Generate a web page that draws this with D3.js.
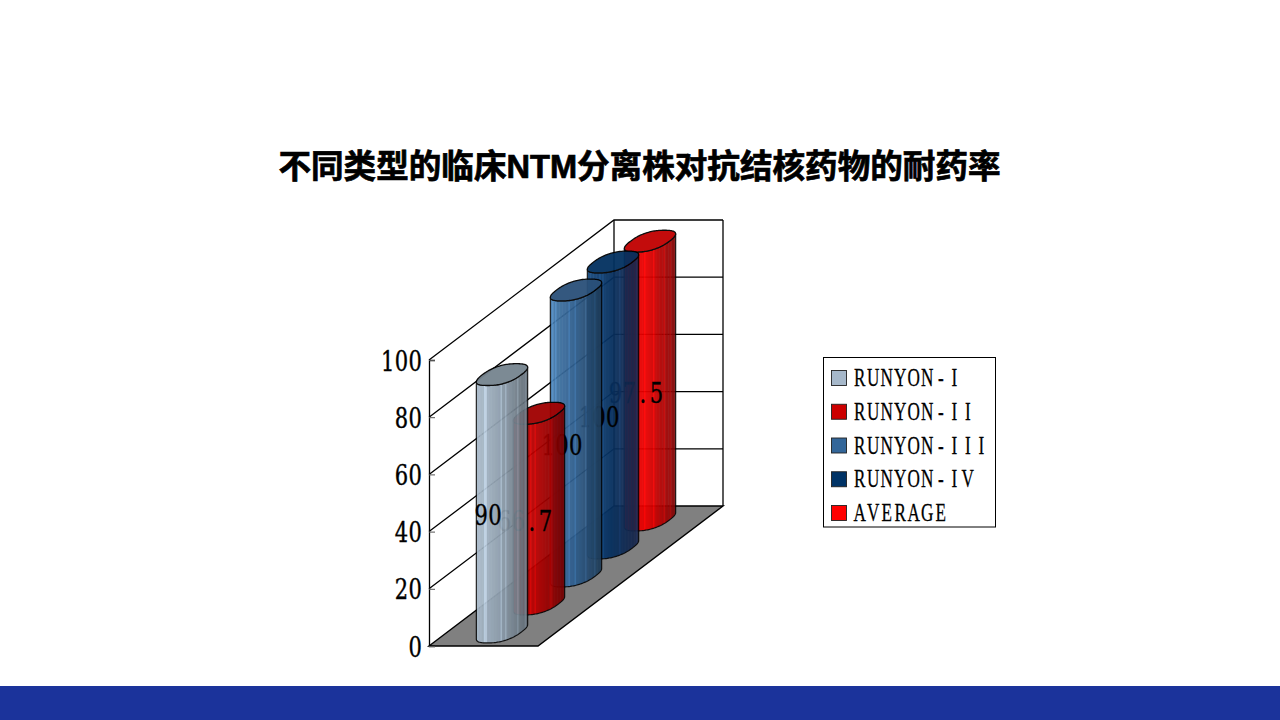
<!DOCTYPE html>
<html><head><meta charset="utf-8">
<script src="https://cdn.jsdelivr.net/npm/d3@7/dist/d3.min.js"></script>
<style>html,body{margin:0;padding:0;background:#fff}svg{display:block}</style>
</head><body><svg id="c" width="1280" height="720"></svg>
<script>
const titleText = "不同类型的临床NTM分离株对抗结核药物的耐药率";
const categories = ["RUNYON-I","RUNYON-II","RUNYON-III","RUNYON-IV","AVERAGE"];
const values = [90, 66.7, 100, 100, 97.5];
const valueLabels = ["90","66.7","100","100","97.5"];
const yTicks = [0,20,40,60,80,100];
const swatchColors = ["#a6b8ca","#cc0000","#336699","#003366","#ff0000"];
const topColors = ["#76848f","#a00000","#2a5079","#02305f","#c00000"];
const bodyLight = ["#aabbcb","#cc0404","#467aaa","#174a80","#f40000"];
const bodyMid = ["#8f9fae","#b40000","#2f5e8e","#06305f","#e40000"];
const bodyDark = ["#5f6a73","#700000","#1e3a56","#1a2548","#7c0606"];

const svg = d3.select("#c");
const defs = svg.append("defs");
const x0 = 429, floorW = 109, depthX = 185, depthY = 140;
const y = d3.scaleLinear().domain([0,100]).range([646,360]);
const depth = d3.scaleBand().domain(categories).range([0,1]);
const ox = t => x0 + t*depthX, oy = t => -t*depthY;

const ctx = document.createElement("canvas").getContext("2d");
function cellXs(str, font, squeeze, cell) {
  ctx.font = font;
  return Array.from(str).map((ch,k)=>((k+.5)*cell - ctx.measureText(ch).width*squeeze/2)/squeeze).join(" ");
}
const numFontSize = 27, numFamily = "'DejaVu Serif'", numSqueeze = 0.78, numCell = 13.7;
const numFont = `${numFontSize}px ${numFamily}`;
function numberText(sel, str, left, baseline) {
  sel.text(str).attr("transform",`translate(${left},${baseline}) scale(${numSqueeze},1)`)
    .attr("x",cellXs(str,numFont,numSqueeze,numCell)).attr("y",0).attr("dy",null).attr("text-anchor","start")
    .attr("font-family",numFamily).attr("font-size",numFontSize).attr("fill","#000")
    .attr("stroke","#000").attr("stroke-width",0.4);
}

svg.append("rect").attr("x",0).attr("y",686).attr("width",1280).attr("height",34).attr("fill","#1b339b");
svg.append("text").text(titleText).attr("x",639.5).attr("y",178).attr("text-anchor","middle")
  .attr("font-family","'Liberation Sans','Noto Sans CJK SC'").attr("font-weight",700).attr("font-size",32.6)
  .attr("fill","#000").attr("stroke","#000").attr("stroke-width",0.7);

const line = d3.line();
const frame = svg.append("g").attr("fill","none").attr("stroke","#000").attr("stroke-width",1.3);
frame.append("path").attr("fill","#808080").attr("stroke-width",1.4)
  .attr("d",line([[x0,y(0)],[ox(1),y(0)+oy(1)],[ox(1)+floorW,y(0)+oy(1)],[x0+floorW,y(0)]])+"Z");
yTicks.slice(1).forEach(v=>{
  frame.append("path").attr("d",line([[x0,y(v)],[ox(1),y(v)+oy(1)],[ox(1)+floorW,y(v)+oy(1)]]));
});
frame.append("path").attr("d",line([[ox(1),y(0)+oy(1)],[ox(1),y(100)+oy(1)]]));
frame.append("path").attr("d",line([[ox(1)+floorW,y(0)+oy(1)],[ox(1)+floorW,y(100)+oy(1)]]));

const axis = svg.append("g").attr("transform",`translate(${x0},0)`)
  .call(d3.axisLeft(y).tickValues(yTicks).tickSize(-6).tickFormat(d3.format("d")));
axis.selectAll(".tick text").each(function(d){
  const s = String(d);
  numberText(d3.select(this), s, -7 - s.length*numCell, 10);
});
axis.selectAll("line").attr("stroke","#555");
axis.select(".domain").attr("stroke","#000").attr("stroke-width",1.3);

// rounded cap outline, sheared along the depth direction
const rx = 19.4, f = 0.39, nStripes = 34, round = 0.82;
const cellDX = depthX/5, cellDY = depthY/5;
const sp = v => Math.sign(v)*Math.pow(Math.abs(v),round);
const pt = (cx,cy,a) => [cx + rx*sp(Math.cos(a)) + f*cellDX*sp(Math.sin(a)), cy - f*cellDY*sp(Math.sin(a))];
const samples = d3.range(0,400).map(k=>k/400*2*Math.PI);
const aRight = samples[d3.maxIndex(samples,a=>pt(0,0,a)[0])];
const halfW = pt(0,0,aRight)[0];

d3.range(categories.length-1,-1,-1).forEach(i=>{
  const t = depth(categories[i]) + depth.bandwidth()/2;
  const cx = ox(t) + floorW/2;
  const baseY = y(0)+oy(t);
  const topY = y(values[i])+oy(t);
  const g = svg.append("g").attr("opacity",0.95);
  const arc = d3.range(0,61).map(k=>aRight - Math.PI*k/60);
  const lowerBase = arc.map(a=>pt(cx,baseY,a));
  const lowerTop = arc.map(a=>pt(cx,topY,a)).reverse();
  const bodyPath = line(lowerBase.concat(lowerTop))+"Z";
  const id = "clip"+i;
  defs.append("clipPath").attr("id",id).append("path").attr("d",bodyPath);
  const shade = d3.scaleLinear().domain([0,0.45,1]).range([bodyLight[i],bodyMid[i],bodyDark[i]]);
  const bars = g.append("g").attr("clip-path",`url(#${id})`);
  const sw = 2*halfW/nStripes;
  d3.range(nStripes).forEach(k=>{
    const light = (k*7+i*3)%11===2 || (k*5+i)%13===4;
    bars.append("rect").attr("x",cx-halfW+k*sw).attr("y",topY-15).attr("width",sw+0.5).attr("height",baseY-topY+30)
      .attr("fill", light ? d3.color(shade((k+.5)/nStripes)).brighter(0.45) : shade((k+.5)/nStripes));
  });
  g.append("path").attr("d",bodyPath).attr("fill","none").attr("stroke","#000").attr("stroke-width",1.2).attr("stroke-opacity",.9);
  const ell = d3.range(0,121).map(k=>pt(cx,topY,2*Math.PI*k/120));
  g.append("path").attr("d",line(ell)+"Z").attr("fill",topColors[i]).attr("stroke","#000").attr("stroke-width",1.3);
  const str = valueLabels[i];
  numberText(svg.append("text"), str, cx-14-str.length*numCell/2, (baseY+topY)/2+22);
});

const legend = svg.append("g");
legend.append("rect").attr("x",823.5).attr("y",357.5).attr("width",172).attr("height",169.5).attr("fill","#fff").attr("stroke","#000");
const ly = d3.scalePoint().domain(categories).range([378,513]);
const legendFontSize = 26, legendSqueeze = 0.66, legendCell = 13.5;
const legendFont = `${legendFontSize}px 'Liberation Serif'`;
categories.forEach((c,i)=>{
  legend.append("rect").attr("x",831.5).attr("y",ly(c)-7.5).attr("width",15).attr("height",15)
    .attr("fill",swatchColors[i]).attr("stroke","#222").attr("stroke-width",.9);
  legend.append("text").text(c).attr("transform",`translate(853,${ly(c)+8}) scale(${legendSqueeze},1)`)
    .attr("x",cellXs(c,legendFont,legendSqueeze,legendCell)).attr("font-family","'Liberation Serif'")
    .attr("font-size",legendFontSize).attr("fill","#000").attr("stroke","#000").attr("stroke-width",0.3);
});
</script></body></html>
